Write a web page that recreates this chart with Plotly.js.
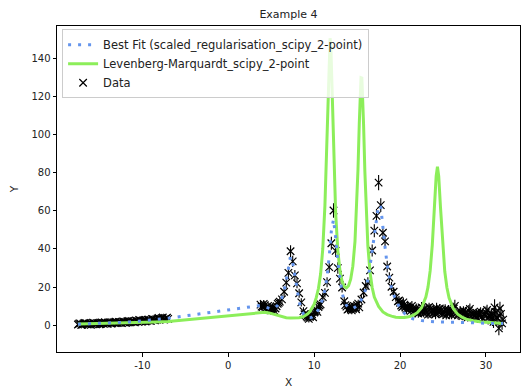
<!DOCTYPE html>
<html>
<head>
<meta charset="utf-8">
<script src="https://cdn.plot.ly/plotly-3.0.1.min.js"></script>
<style>html,body{margin:0;padding:0;background:#fff;}#chart{width:522px;height:389px;}</style>
</head>
<body>
<div id="chart"></div>
<script>
// ---- Data ----
// x grid where the data were sampled and the best fit is evaluated
const fitX = [
  -17.5,-17.25,-17,-16.75,-16.5,-16.25,-16,-15.75,-15.5,-15.25,-15,-14.75,-14.5,-14.25,-14,-13.75,-13.5,-13.25,-13,-12.75,-12.5,-12.25,-12,-11.75,-11.5,-11.25,-11,-10.75,-10.5,-10.25,-10,-9.75,-9.5,-9.25,-9,-8.75,-8.5,-8.25,-8,-7.75,-7.5,-7.25,-7,
  3.75,4,4.25,4.5,4.75,5,5.25,5.5,5.75,6,6.25,6.5,6.75,7,7.25,7.5,7.75,8,8.25,8.5,8.75,9,9.25,9.5,9.75,10,10.25,10.5,10.75,11,11.25,11.5,11.75,12,12.25,12.5,12.75,13,13.25,13.5,13.75,14,14.25,14.5,14.75,15,15.25,15.5,15.75,16,16.25,16.5,16.75,17,17.25,17.5,17.75,18,18.25,18.5,18.75,19,19.25,19.5,19.75,20,20.25,20.5,20.75,21,21.25,21.5,21.75,22,22.25,22.5,22.75,23,23.25,23.5,23.75,24,24.25,24.5,24.75,25,25.25,25.5,25.75,26,26.25,26.5,26.75,27,27.25,27.5,27.75,28,28.25,28.5,28.75,29,29.25,29.5,29.75,30,30.25,30.5,30.75,31,31.25,31.5,31.75,32
];
const dataY = [
  0.4,1.0,0.3,1.2,0.6,0.9,0.2,1.4,0.7,1.1,0.5,1.5,0.8,1.3,0.9,1.6,1.0,1.7,1.1,1.8,1.3,2.0,1.4,2.1,1.5,2.2,1.7,2.5,1.8,2.6,2.0,2.8,2.2,3.0,2.3,3.2,2.6,3.5,2.9,3.8,3.0,3.6,3.4,
  10.8,9.6,10.6,8.4,9.2,7.8,9.0,8.8,11.2,12.4,13.6,17.6,22.4,27.5,38.8,33.5,26.2,22.0,16.8,12.0,7.4,5.4,4.0,4.6,5.8,6.6,8.2,9.6,11.0,14.8,17.0,22.6,30.5,43.0,60.2,39.0,30.0,24.5,19.8,12.6,9.8,8.6,9.0,8.8,9.6,10.6,9.4,13.5,17.2,20.6,22.4,28.8,39.2,49.6,57.4,74.8,63.0,48.5,44.0,30.8,25.0,20.2,17.6,14.8,12.6,11.8,9.6,10.8,8.4,9.2,7.6,8.8,6.8,8.2,7.0,9.4,6.4,7.8,5.6,8.6,6.0,7.2,9.0,6.6,7.8,5.8,8.4,6.2,7.0,5.4,8.8,6.0,5.2,7.4,4.8,6.4,5.0,7.6,4.6,6.0,5.2,3.8,6.2,4.4,5.6,6.8,3.6,5.0,2.8,9.4,4.2,-1.6,6.0,3.0
];
const dataErr = [
  1.1,1.2,1.1,1.2,1.1,1.2,1.1,1.2,1.1,1.2,1.1,1.2,1.1,1.2,1.1,1.2,1.1,1.2,1.1,1.2,1.1,1.2,1.1,1.2,1.1,1.2,1.1,1.2,1.1,1.2,1.1,1.2,1.1,1.2,1.1,1.2,1.1,1.2,1.1,1.2,1.1,1.2,1.1,
  2,2,2,2,2,2,2,2,2,
  2.2,2.4,2.6,2.8,3.2,3.2,3.0,2.8,2.6,2.4,2.2,
  2,2,2,2,2,2,2,2,2,
  2.2,2.4,2.6,3,3.4,3.8,3.2,3,2.8,2.6,2.4,
  2,2,2,2,2,2,2,
  2.2,2.4,2.6,2.8,3,3.2,3.4,3.6,4,3.6,3.4,3.2,3,2.8,2.6,2.4,2.4,2.4,
  2.2,2.4,2.2,2.6,2.2,2.4,2.2,2.6,2.2,2.4,2.8,2.2,2.4,2.2,2.6,2.2,2.4,2.8,2.2,2.4,2.2,2.6,2.2,2.4,2.2,3.0,2.4,2.2,2.6,2.2,2.4,2.2,3.0,2.2,2.4,2.2,2.6,2.2,2.4,2.2,3.0,3.2,2.4,3.2,4.2,3.2,3.6,3.6,3.4
];
// additional data points lying between the grid points
const extraX = [
  -17.375,-17.125,-16.875,-16.625,-16.375,-16.125,-15.875,-15.625,-15.375,-15.125,-14.875,-14.625,-14.375,-14.125,-13.875,-13.625,-13.375,-13.125,-12.875,-12.625,-12.375,-12.125,-11.875,-11.625,-11.375,-11.125,-10.875,-10.625,-10.375,-10.125,-9.875,-9.625,-9.375,-9.125,-8.875,-8.625,-8.375,-8.125,-7.875,-7.625,-7.375,-7.125,
  3.875,4.125,4.375,4.625,4.875,5.125,5.375,5.625,5.875,
  8.875,9.125,9.375,9.625,9.875,10.125,10.375,10.625,
  13.625,13.875,14.125,14.375,14.625,14.875,15.125,
  19.875,20.125,20.375,20.625,20.875,21.125,21.375,21.625,21.875,22.125,22.375,22.625,22.875,23.125,23.375,23.625,23.875,24.125,24.375,24.625,24.875,25.125,25.375,25.625,25.875,26.125,26.375,26.625,26.875,27.125,27.375,27.625,27.875,28.125,28.375,28.625,28.875,29.125,29.375,29.625,29.875,30.125,30.375,30.625,30.875,31.125,31.375,31.625,31.875
];
const extraY = [
  0.9,0.2,0.8,1.1,0.4,1.0,0.6,1.2,0.5,1.3,0.7,1.2,1.6,0.8,1.4,0.9,1.5,1.9,1.2,1.7,1.1,1.9,1.3,2.3,1.6,2.0,1.5,2.3,2.8,1.9,2.5,2.0,2.9,2.4,3.3,2.7,3.1,3.9,3.3,4.1,3.2,4.0,
  9.8,11.2,9.0,10.2,8.0,9.6,7.6,10.0,11.8,
  5.8,4.6,3.4,5.0,4.2,7.2,7.0,10.4,
  10.6,8.2,9.8,7.8,10.2,8.4,11.4,
  13.0,10.4,12.0,9.4,10.0,8.6,10.2,7.4,9.0,6.2,8.0,7.2,8.8,6.8,9.6,7.0,8.4,5.8,7.6,8.8,6.4,7.4,5.2,8.2,6.6,7.8,10.2,7.0,6.2,5.6,7.8,6.8,4.2,8.6,6.4,4.8,6.6,5.4,7.2,3.4,5.8,8.0,4.8,6.4,1.8,7.0,3.6,8.8,1.0
];
const extraErr = [
  1.1,1.2,1.1,1.2,1.1,1.2,1.1,1.2,1.1,1.2,1.1,1.2,1.1,1.2,1.1,1.2,1.1,1.2,1.1,1.2,1.1,1.2,1.1,1.2,1.1,1.2,1.1,1.2,1.1,1.2,1.1,1.2,1.1,1.2,1.1,1.2,1.1,1.2,1.1,1.2,1.1,1.2,
  2,2,2,2,2,2,2,2,2,
  2,2,2,2,2,2,2,2,
  2,2,2,2,2,2,2,
  2.4,2.2,2.6,2.2,2.4,2.2,2.6,2.2,2.4,2.2,2.6,2.2,2.4,2.8,2.2,2.4,2.2,2.6,2.2,2.4,2.2,2.6,2.2,2.4,2.2,2.6,3.2,2.4,2.2,2.6,2.2,2.4,2.2,2.8,2.2,2.4,2.2,2.6,2.2,2.4,2.2,2.8,2.4,2.6,3.2,3.0,3.4,3.6,3.4
];
const bestFitY = [
  0.60,0.63,0.66,0.69,0.72,0.75,0.78,0.82,0.86,0.90,0.94,0.98,1.02,1.07,1.12,1.17,1.22,1.28,1.34,1.40,1.46,1.53,1.60,1.67,1.74,1.82,1.90,1.98,2.07,2.16,2.25,2.35,2.45,2.56,2.67,2.78,2.90,3.02,3.15,3.28,3.42,3.56,3.70,
  10.4,10.0,9.5,9.0,8.7,8.6,8.8,9.4,10.5,12.0,14.5,18.0,23.5,30.5,36.0,33.0,25.5,18.5,12.5,8.5,6.0,4.6,4.0,3.9,4.3,5.2,6.5,8.3,10.8,14.0,18.5,25.5,36.0,49.5,55.5,46.0,33.0,23.5,17.0,13.0,10.5,9.2,8.7,8.8,9.3,10.2,11.5,13.2,15.5,19.0,24.0,31.0,39.5,48.0,56.5,63.0,62.0,53.0,41.0,31.5,24.5,19.5,16.0,13.2,11.0,9.0,7.5,6.3,5.3,4.5,3.9,3.4,3.1,2.9,2.7,2.5,2.35,2.2,2.1,2.0,1.95,1.9,1.85,1.8,1.75,1.7,1.65,1.6,1.55,1.5,1.45,1.4,1.38,1.35,1.32,1.3,1.27,1.25,1.22,1.2,1.18,1.15,1.13,1.1,1.08,1.06,1.04,1.02,1.0,0.98,0.96,0.94,0.92,0.9
];
const lmX = [
  -17.5,-15,-12.5,-10,-8.5,-7,
  3.75,4.25,4.75,5.25,5.75,6.25,6.75,7.25,7.75,8.25,8.75,9,9.25,9.5,9.75,10,10.25,10.5,10.75,11,11.25,11.5,11.65,11.75,11.85,11.95,12.05,12.2,12.35,12.5,12.75,13,13.25,13.5,13.75,14,14.25,14.5,14.75,14.95,15.1,15.25,15.35,15.45,15.55,15.65,15.75,15.9,16.05,16.25,16.5,16.75,17,17.5,18,18.5,19,19.5,20,20.5,21,21.5,22,22.5,23,23.25,23.5,23.75,24,24.2,24.35,24.5,24.7,24.95,25.2,25.45,25.7,26.2,26.7,27.2,27.7,28.5,29.5,30.5,31.5,32
];
const lmY = [
  0.7,0.9,1.2,1.5,1.7,2.0,
  6.7,6.8,6.5,5.8,5.0,4.4,4.0,3.8,3.8,4.0,4.6,5.2,6.0,7.2,8.8,11.0,14.6,19.4,27.0,40.0,62.7,101.5,130.0,144.8,150.5,144.9,130.4,102.5,77.4,58.8,39.3,28.7,23.0,20.3,19.6,20.7,24.2,31.0,44.0,62.0,81.7,105.8,120.6,129.8,129.6,120.2,105.1,80.6,60.3,41.6,27.8,19.8,14.8,9.9,7.0,5.6,4.8,4.2,4.1,4.1,4.5,5.2,6.6,9.2,14.8,20.0,28.5,42.2,62.2,78.2,83.1,78.1,62.1,42.0,28.3,19.8,14.4,8.7,5.8,4.3,3.25,2.4,1.7,1.4,1.1,1.0
];
const xTicks = [-10, 0, 10, 20, 30];
const yTicks = [0, 20, 40, 60, 80, 100, 120, 140];

const font = 'DejaVu Sans, sans-serif';

const traces = [
  {
    x: fitX.concat(extraX), y: dataY.concat(extraY), type: 'scatter', mode: 'markers', name: 'Data',
    legendrank: 3,
    marker: {symbol: 'x-thin-open', size: 7.5, color: 'black', line: {color: 'black', width: 1.2}},
    error_y: {type: 'data', array: dataErr.concat(extraErr), visible: true, color: 'black', thickness: 1.1, width: 0}
  },
  {
    x: lmX, y: lmY, type: 'scatter', mode: 'lines', name: 'Levenberg-Marquardt_scipy_2-point',
    legendrank: 2,
    line: {color: 'rgb(140,238,90)', width: 3}
  },
  {
    x: fitX, y: bestFitY, type: 'scatter', mode: 'lines', name: 'Best Fit (scaled_regularisation_scipy_2-point)',
    legendrank: 1,
    line: {color: 'rgb(100,149,237)', width: 3, dash: '3px,7px'}
  }
];

const axisCommon = {
  showline: true, mirror: true, linecolor: 'black', linewidth: 1,
  showgrid: false, zeroline: false,
  ticks: 'outside', ticklen: 3.5, tickwidth: 1, tickcolor: 'black',
  tickfont: {family: font, size: 10, color: '#222'},
  tickmode: 'array'
};

const layout = {
  width: 522, height: 389,
  margin: {l: 57, r: 2, t: 26, b: 37},
  paper_bgcolor: 'white', plot_bgcolor: 'white',
  font: {family: font, size: 10, color: '#222'},
  title: {text: 'Example 4', font: {family: font, size: 11, color: '#222'},
          x: 0.5, xref: 'paper', y: 1 - 14/389, yref: 'container', yanchor: 'middle'},
  xaxis: Object.assign({}, axisCommon, {
    range: [-19.94, 33.96], tickvals: xTicks, ticktext: xTicks.map(String),
    title: {text: 'X', font: {family: font, size: 10.5, color: '#222'}, standoff: 9}
  }),
  yaxis: Object.assign({}, axisCommon, {
    range: [-14.0, 156.9], tickvals: yTicks, ticktext: yTicks.map(String),
    title: {text: 'Y', font: {family: font, size: 10.5, color: '#222'}, standoff: 10}
  }),
  showlegend: true,
  legend: {
    x: 0.011, y: 0.99, xanchor: 'left', yanchor: 'top',
    bgcolor: 'rgba(255,255,255,0.8)', bordercolor: '#cccccc', borderwidth: 1,
    font: {family: font, size: 11.5, color: '#222'},
    itemwidth: 30, tracegroupgap: 0
  }
};

Plotly.newPlot('chart', traces, layout, {displayModeBar: false, staticPlot: true});
</script>
</body>
</html>
